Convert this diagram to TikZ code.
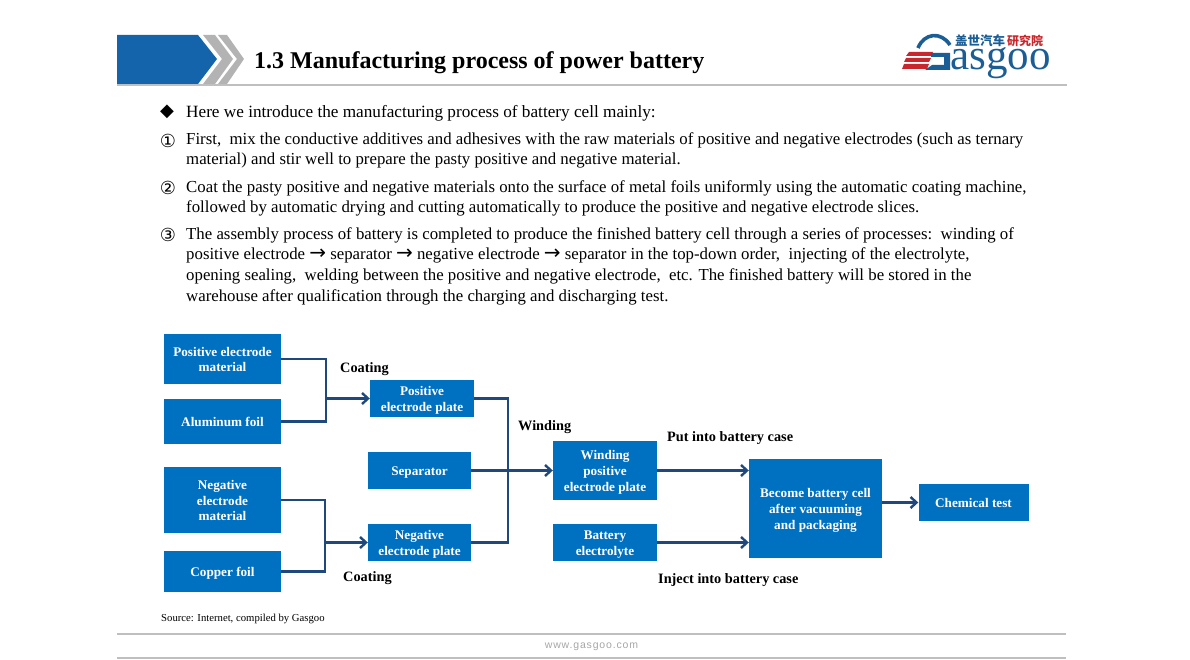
\documentclass[tikz,border=0pt]{standalone}
\usepackage{fontspec}
\setmainfont{Liberation Serif}
\newfontfamily\djv{DejaVu Sans}
\newfontfamily\cjkf{Noto Sans CJK SC}
\newfontfamily\lsans{Liberation Sans}
\usetikzlibrary{arrows.meta}
\definecolor{boxblue}{HTML}{0070C0}
\definecolor{linkblue}{HTML}{1F497D}
\definecolor{headblue}{HTML}{1464AB}
\definecolor{chevgray}{HTML}{B3B3B3}
\definecolor{rulegray}{HTML}{BFBFBF}
\definecolor{logoblue}{HTML}{1B5E95}
\definecolor{logored}{HTML}{C8282D}
\newcommand{\barrow}{{\djv\fontsize{20}{20}\selectfont →}}
\tikzset{
  x=1pt,y=-1pt,
  bluebox/.style={fill=boxblue,text=white,font=\bfseries\fontsize{13.2}{15.8}\selectfont,align=center,inner sep=0pt,minimum width=#1},
  nudged/.style={execute at begin node={\rule{0pt}{#1}}},
  para/.style={anchor=north west,inner sep=0pt,align=left,font=\fontsize{16.8}{20.3}\selectfont},
  bullet/.style={anchor=center,inner sep=0pt,font=\djv\fontsize{18}{20}\selectfont},
  steplabel/.style={anchor=west,inner sep=0pt,font=\bfseries\fontsize{14.3}{16}\selectfont},
  link/.style={draw=linkblue,line width=2.6pt,line join=miter},
  arrowlink/.style={link,-{Straight Barb[length=6pt,width=11pt,line width=2.4pt]}},
  rulel/.style={draw=rulegray,line width=2pt},
}
\begin{document}
\begin{tikzpicture}
\useasboundingbox (0,0) rectangle (1190,660);
% header
\fill[headblue] (117,35) -- (198,35) -- (217,59) -- (198,84) -- (117,84) -- cycle;
\fill[chevgray] (203,35) -- (215,35) -- (233,59) -- (215,84) -- (203,84) -- (222,59) -- cycle;
\fill[chevgray] (218,35) -- (227,35) -- (244,59) -- (227,84) -- (218,84) -- (237,59) -- cycle;
\draw[rulel] (117,85) -- (1067,85);
\node[anchor=west,inner sep=0pt,font=\bfseries\fontsize{24}{26}\selectfont] (title) at (254,63) {1.3 Manufacturing process of power battery};
% logo
\fill[logored] (909,52) -- (933,52) -- (931,56) -- (906,56) -- cycle;
\fill[logored] (906,58) -- (931,58) -- (929,62) -- (904,62) -- cycle;
\fill[logored] (904,64) -- (929,64) -- (927,69) -- (902,69) -- cycle;
\draw[logoblue,line width=3.6pt] (918,48) .. controls (924,33) and (941,31) .. (950,45);
\fill[logoblue] (931,53) -- (950,53) -- (950,70) -- (925,70) -- (932,65) -- (944,65) -- (944,57) -- (931,57) -- cycle;
\node[anchor=base west,inner sep=0pt,text=logoblue,font=\fontsize{43}{44}\selectfont] (logotext) at (950,70) {asgoo};
\node[anchor=west,inner sep=0pt,text=logoblue,font=\cjkf\bfseries\fontsize{12.5}{13}\selectfont] (logocn) at (955,41) {盖世汽车};
\node[anchor=west,inner sep=0pt,text=logored,font=\cjkf\bfseries\fontsize{12}{13}\selectfont] (logocr) at (1007,41) {研究院};
% text
\node[bullet] (b0) at (167,112) {◆};
\node[para,anchor=west,font=\fontsize{17.2}{20}\selectfont] (p0) at (186,113) {Here we introduce the manufacturing process of battery cell mainly:};
\node[bullet] (b1) at (168,141) {①};
\node[para] (p1) at (186,132.5) {First,\ \ mix the conductive additives and adhesives with the raw materials of positive and negative electrodes (such as ternary\\material) and stir well to prepare the pasty positive and negative material.};
\node[bullet] (b2) at (168,188) {②};
\node[para] (p2) at (186,180) {Coat the pasty positive and negative materials onto the surface of metal foils uniformly using the automatic coating machine,\\followed by automatic drying and cutting automatically to produce the positive and negative electrode slices.};
\node[bullet] (b3) at (168,235) {③};
\node[para,font=\fontsize{16.8}{20.8}\selectfont] (p3) at (186,227) {The assembly process of battery is completed to produce the finished battery cell through a series of processes:\ \ winding of\\positive electrode \barrow{} separator \barrow{} negative electrode \barrow{} separator in the top-down order,\ \ injecting of the electrolyte,\\opening sealing,\ \ welding between the positive and negative electrode,\ \ etc. The finished battery will be stored in the\\warehouse after qualification through the charging and discharging test.};
% boxes
\node[bluebox=117pt,minimum height=50pt,nudged=26pt] (pem) at (222.5,359) {Positive electrode\\material};
\node[bluebox=117pt,minimum height=45pt] (al) at (222.5,421.5) {Aluminum foil};
\node[bluebox=117pt,minimum height=66pt,nudged=42pt] (nem) at (222.5,500) {Negative\\electrode\\material};
\node[bluebox=117pt,minimum height=41pt,nudged=13.5pt] (cu) at (222.5,571.5) {Copper foil};
\node[bluebox=104pt,minimum height=37pt,nudged=29pt] (pep) at (422,398.5) {Positive\\electrode plate};
\node[bluebox=103pt,minimum height=37pt,nudged=13.5pt] (sep) at (419.5,470.5) {Separator};
\node[bluebox=103pt,minimum height=37pt,nudged=29pt] (nep) at (419.5,542.5) {Negative\\electrode plate};
\node[bluebox=104pt,minimum height=59pt,nudged=44.6pt] (win) at (605,470.5) {Winding\\positive\\electrode plate};
\node[bluebox=104pt,minimum height=37pt,nudged=29pt] (ely) at (605,542.5) {Battery\\electrolyte};
\node[bluebox=133pt,minimum height=99pt,nudged=44.6pt] (cell) at (815.5,508.5) {Become battery cell\\after vacuuming\\and packaging};
\node[bluebox=110pt,minimum height=37pt] (chem) at (973.5,502.5) {Chemical test};
% junctions
\coordinate (j1) at (326,398.5);
\coordinate (j2) at (325,542.5);
\coordinate (j3) at (508,470.5);
% connectors
\draw[link] (pem.east) -| (j1);
\draw[link] (al.east) -| (j1);
\draw[arrowlink] (j1) -- (pep.west);
\draw[link] (nem.east) -| (j2);
\draw[link] (cu.east) -| (j2);
\draw[arrowlink] (j2) -- (nep.west);
\draw[link] (pep.east) -| (j3);
\draw[link] (nep.east) -| (j3);
\draw[arrowlink] (sep.east) -- (win.west);
\draw[arrowlink] (win.east) -- (win.east -| cell.west);
\draw[arrowlink] (ely.east) -- (ely.east -| cell.west);
\draw[arrowlink] (cell.east |- chem.west) -- (chem.west);
% labels
\node[steplabel] (c1) at (340,369.5) {Coating};
\node[steplabel] (c2) at (343,578.5) {Coating};
\node[steplabel] (w1) at (518,427.5) {Winding};
\node[steplabel] (put) at (667,438.5) {Put into battery case};
\node[steplabel] (inj) at (658,580.5) {Inject into battery case};
% footer
\node[anchor=west,inner sep=0pt,font=\fontsize{10.7}{12}\selectfont] (src) at (161,619) {Source: Internet, compiled by Gasgoo};
\draw[rulel] (117,633.5) -- (1066,633.5);
\draw[rulel] (117,658) -- (1066,658);
\node[inner sep=0pt,text=black!35,font=\lsans\fontsize{10.5}{12}\selectfont] (www) at (591.5,647) {\addfontfeatures{LetterSpace=8}www.gasgoo.com};
\end{tikzpicture}
\end{document}
